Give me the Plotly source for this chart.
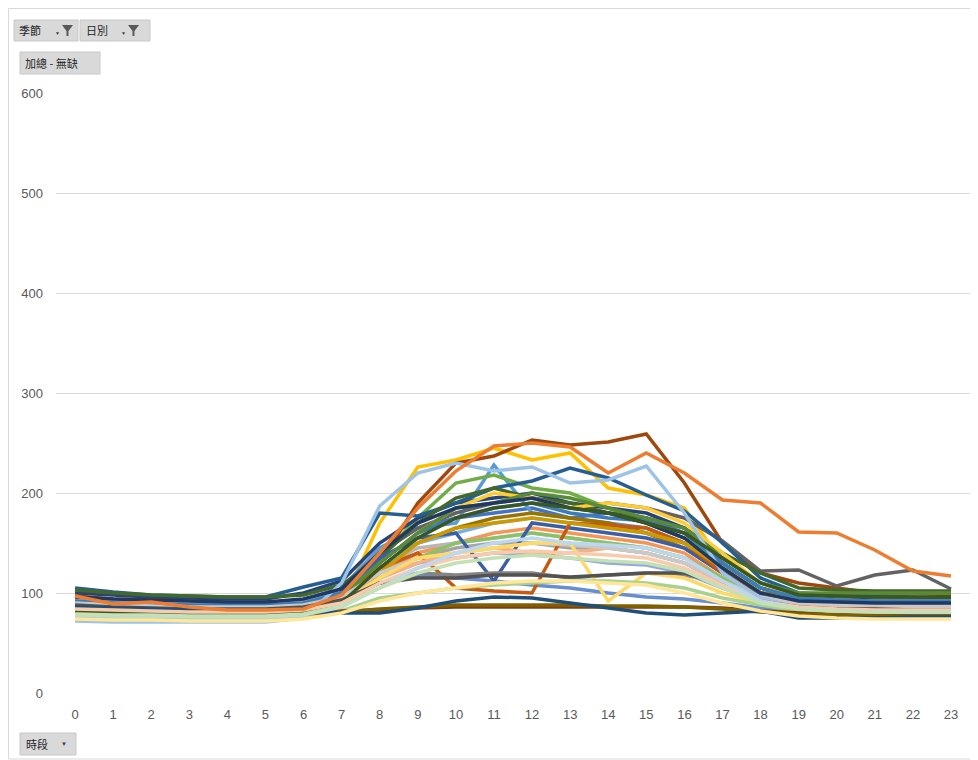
import plotly.graph_objs as go

# hours on the category axis
hours = list(range(24))

# series colours (Excel office palette, extended)
colors = [
    "#4472C4", "#ED7D31", "#A5A5A5", "#FFC000", "#5B9BD5", "#70AD47",
    "#264478", "#9E480E", "#636363", "#997300", "#255E91", "#43682B",
    "#698ED0", "#F1975A", "#B7B7B7", "#FFCD33", "#7CAFDD", "#8CC168",
    "#3A5FA6", "#C55A11", "#848484", "#CC9A00", "#3B7DB9", "#5A8A38",
    "#8FAADC", "#F4B183", "#C9C9C9", "#FFD966", "#9DC3E6", "#A9D18E",
    "#203864", "#843C0C", "#525252", "#7F6000", "#1F4E79", "#385723",
    "#F8CBAD", "#FFE699", "#BDD7EE", "#C5E0B4",
]

# values, one list per series
s01 = [92, 90, 89, 88, 87, 87, 90, 100, 140, 165, 175, 180, 185, 175, 180, 175, 160, 125, 100, 90, 88, 87, 86, 86]
s02 = [97, 89, 91, 86, 83, 83, 84, 98, 140, 185, 222, 247, 250, 246, 220, 240, 220, 193, 190, 161, 160, 143, 122, 117]
s03 = [85, 84, 83, 82, 82, 82, 84, 95, 120, 135, 145, 150, 150, 145, 145, 140, 130, 110, 95, 88, 86, 85, 85, 85]
s04 = [78, 77, 77, 76, 76, 76, 78, 88, 170, 226, 233, 245, 233, 240, 205, 198, 185, 130, 100, 90, 88, 87, 85, 85]
s05 = [95, 93, 92, 91, 90, 90, 93, 105, 145, 165, 170, 228, 180, 175, 170, 165, 150, 120, 98, 90, 89, 88, 88, 88]
s06 = [82, 80, 79, 78, 78, 78, 80, 92, 135, 175, 210, 218, 205, 200, 185, 170, 155, 130, 105, 95, 93, 92, 92, 92]
s07 = [100, 98, 96, 95, 94, 94, 100, 112, 150, 175, 190, 195, 200, 190, 185, 180, 165, 130, 105, 95, 94, 93, 93, 93]
s08 = [97, 94, 93, 92, 90, 90, 92, 100, 130, 190, 230, 237, 253, 248, 251, 259, 210, 150, 120, 110, 105, 100, 100, 98]
s09 = [95, 93, 92, 91, 90, 90, 92, 105, 140, 165, 180, 190, 195, 185, 190, 185, 175, 152, 122, 123, 107, 118, 123, 104]
s10 = [84, 83, 82, 81, 80, 80, 82, 90, 125, 150, 165, 175, 180, 175, 170, 160, 145, 120, 100, 98, 100, 100, 100, 100]
s11 = [105, 101, 98, 97, 96, 96, 106, 115, 180, 177, 190, 205, 212, 225, 215, 198, 182, 150, 115, 100, 98, 97, 96, 95]
s12 = [103, 100, 98, 97, 96, 96, 98, 108, 135, 170, 195, 205, 195, 190, 180, 175, 165, 140, 120, 105, 103, 102, 102, 102]
s13 = [88, 86, 85, 84, 83, 83, 85, 95, 110, 118, 115, 112, 108, 105, 100, 96, 94, 90, 85, 82, 82, 82, 81, 81]
s14 = [90, 88, 87, 86, 85, 85, 87, 96, 120, 140, 150, 160, 165, 160, 155, 150, 140, 115, 95, 88, 86, 85, 85, 85]
s15 = [95, 93, 92, 91, 90, 90, 92, 100, 125, 145, 150, 155, 160, 155, 150, 145, 135, 115, 100, 92, 90, 89, 89, 89]
s16 = [76, 75, 75, 74, 74, 74, 76, 85, 130, 160, 185, 200, 195, 185, 190, 185, 170, 140, 110, 95, 93, 92, 92, 92]
s17 = [86, 85, 84, 83, 83, 83, 85, 93, 125, 150, 160, 170, 175, 170, 165, 160, 150, 125, 100, 90, 88, 87, 87, 87]
s18 = [80, 79, 78, 77, 77, 77, 79, 88, 115, 135, 150, 155, 160, 155, 150, 145, 135, 115, 95, 88, 87, 86, 86, 86]
s19 = [90, 88, 87, 86, 85, 85, 88, 100, 135, 155, 160, 112, 170, 165, 160, 155, 145, 120, 100, 92, 90, 90, 89, 89]
s20 = [88, 85, 84, 83, 82, 82, 84, 95, 125, 140, 105, 102, 100, 170, 168, 165, 150, 120, 100, 90, 88, 87, 86, 86]
s21 = [83, 82, 81, 80, 80, 80, 82, 90, 110, 120, 118, 120, 120, 115, 118, 120, 118, 110, 95, 88, 86, 85, 85, 85]
s22 = [82, 80, 79, 78, 78, 78, 80, 90, 120, 150, 165, 170, 175, 170, 165, 160, 150, 125, 100, 93, 92, 92, 92, 92]
s23 = [92, 90, 89, 88, 88, 88, 90, 100, 130, 160, 175, 185, 190, 180, 175, 172, 160, 130, 105, 95, 93, 92, 92, 92]
s24 = [88, 86, 85, 84, 84, 84, 86, 96, 130, 160, 185, 190, 200, 195, 185, 175, 165, 135, 110, 100, 100, 100, 100, 100]
s25 = [85, 84, 83, 82, 82, 82, 84, 92, 115, 130, 135, 140, 138, 135, 130, 128, 120, 105, 92, 86, 85, 84, 84, 84]
s26 = [87, 86, 85, 84, 83, 83, 85, 93, 115, 130, 140, 145, 140, 140, 145, 140, 130, 110, 95, 88, 86, 85, 85, 85]
s27 = [90, 88, 87, 86, 86, 86, 88, 96, 120, 135, 140, 145, 150, 148, 145, 140, 130, 112, 96, 90, 88, 88, 87, 87]
s28 = [80, 78, 78, 77, 77, 77, 79, 90, 115, 135, 140, 145, 150, 150, 92, 120, 115, 100, 90, 85, 84, 83, 82, 82]
s29 = [72, 71, 71, 71, 71, 71, 75, 110, 187, 220, 230, 222, 226, 210, 213, 227, 180, 120, 95, 85, 82, 80, 80, 80]
s30 = [75, 74, 74, 73, 73, 73, 75, 82, 95, 100, 105, 108, 110, 112, 112, 110, 105, 95, 88, 82, 80, 80, 80, 80]
s31 = [96, 94, 93, 92, 91, 91, 94, 104, 140, 170, 185, 190, 195, 185, 180, 170, 155, 125, 100, 92, 91, 90, 90, 90]
s32 = [82, 80, 80, 79, 79, 79, 80, 82, 83, 85, 86, 86, 86, 86, 86, 86, 86, 85, 82, 80, 78, 78, 77, 77]
s33 = [88, 86, 85, 84, 84, 84, 86, 93, 110, 115, 115, 118, 118, 116, 118, 120, 120, 108, 92, 86, 84, 84, 83, 83]
s34 = [80, 79, 79, 78, 78, 78, 79, 81, 84, 86, 88, 88, 88, 88, 87, 87, 86, 84, 81, 79, 78, 77, 77, 77]
s35 = [86, 85, 84, 83, 82, 82, 82, 80, 80, 85, 92, 96, 95, 90, 85, 80, 78, 80, 82, 75, 75, 75, 76, 76]
s36 = [83, 81, 80, 79, 79, 79, 81, 90, 125, 155, 175, 185, 190, 185, 180, 170, 160, 135, 110, 98, 97, 96, 96, 96]
s37 = [84, 83, 82, 81, 81, 81, 83, 90, 110, 125, 135, 140, 142, 140, 138, 135, 125, 108, 92, 86, 84, 83, 83, 83]
s38 = [74, 73, 73, 72, 72, 72, 74, 80, 92, 100, 105, 110, 112, 112, 110, 108, 100, 90, 82, 77, 75, 74, 74, 74]
s39 = [78, 77, 77, 76, 76, 76, 78, 86, 105, 125, 140, 150, 155, 150, 148, 145, 135, 112, 92, 84, 82, 81, 81, 81]
s40 = [79, 78, 78, 77, 77, 77, 79, 87, 105, 120, 130, 135, 138, 135, 132, 130, 122, 105, 90, 84, 82, 81, 81, 81]

series = [s01, s02, s03, s04, s05, s06, s07, s08, s09, s10,
          s11, s12, s13, s14, s15, s16, s17, s18, s19, s20,
          s21, s22, s23, s24, s25, s26, s27, s28, s29, s30,
          s31, s32, s33, s34, s35, s36, s37, s38, s39, s40]

# drawing order: the long orange tail sits on top of the others
order = [i for i in range(len(series)) if i != 1] + [1]

fig = go.Figure()
for i in order:
    fig.add_trace(go.Scatter(
        x=hours, y=series[i], mode="lines", name="系列%d" % (i + 1),
        line=dict(color=colors[i], width=3.5),
    ))

# the page puts the figure 8px in from the window corner
OFF = 8
W, H = 978 - OFF, 760 - OFF
# plot area in window pixels: x 56..970, y 93..693
L, R, T, B = 56 - OFF, 970 - OFF, 93 - OFF, 693 - OFF


def px(x):
    return (x - OFF - L) / (R - L)


def py(y):
    return (B - (y - OFF)) / (B - T)


shapes = []
annos = []

# outer chart border
shapes.append(dict(type="rect", xref="paper", yref="paper",
                   x0=px(8.5), x1=px(977), y0=py(759), y1=py(8.5),
                   line=dict(color="#D9D9D9", width=1), layer="below"))


def button(x0, y0, x1, y1, text, tx):
    shapes.append(dict(type="rect", xref="paper", yref="paper",
                       x0=px(x0), x1=px(x1), y0=py(y1), y1=py(y0),
                       fillcolor="#D9D9D9", line=dict(color="#C8C8C8", width=1),
                       layer="above"))
    annos.append(dict(x=px(tx), y=py((y0 + y1) / 2), xref="paper", yref="paper",
                      text=text, showarrow=False, xanchor="left", yanchor="middle",
                      font=dict(family="Noto Sans CJK TC", size=11, color="#1F1F1F")))


def arrow(x, y, size=7):
    annos.append(dict(x=px(x), y=py(y), xref="paper", yref="paper", text="▼",
                      showarrow=False, xanchor="center", yanchor="middle",
                      font=dict(size=size, color="#404040")))


def funnel(x, y):
    # small filter icon, top-left at window pixel (x, y)
    pts = [(x, y), (x + 11, y), (x + 6.5, y + 6), (x + 6.5, y + 11), (x + 4.5, y + 11), (x + 4.5, y + 6)]
    path = "M " + " L ".join("%f,%f" % (px(a), py(b)) for a, b in pts) + " Z"
    shapes.append(dict(type="path", xref="paper", yref="paper", path=path,
                       fillcolor="#595959", line=dict(width=0), layer="above"))


button(14, 20, 78, 41, "季節", 17)
arrow(57, 33, 5)
funnel(62, 25)
button(80, 20, 150, 41, "日別", 84)
arrow(123, 33, 5)
funnel(128, 25)
button(20, 52, 100, 74, "加總 - 無缺", 23)
button(20, 733, 76, 755, "時段", 24)
arrow(64, 744, 6)

fig.update_layout(
    width=W, height=H,
    margin=dict(l=L, r=W - R, t=T, b=H - B),
    paper_bgcolor="white", plot_bgcolor="white",
    showlegend=False,
    font=dict(family="Liberation Sans", size=13, color="#595959"),
    xaxis=dict(range=[-0.5, 23.5], tickmode="array", tickvals=hours,
               showgrid=False, zeroline=False, showline=False,
               ticklabelstandoff=12),
    yaxis=dict(range=[0, 600], dtick=100, showgrid=True, gridcolor="#D9D9D9",
               gridwidth=1, zeroline=False, showline=False,
               ticklabelstandoff=12),
    shapes=shapes, annotations=annos,
)

fig.write_html("out.html")
